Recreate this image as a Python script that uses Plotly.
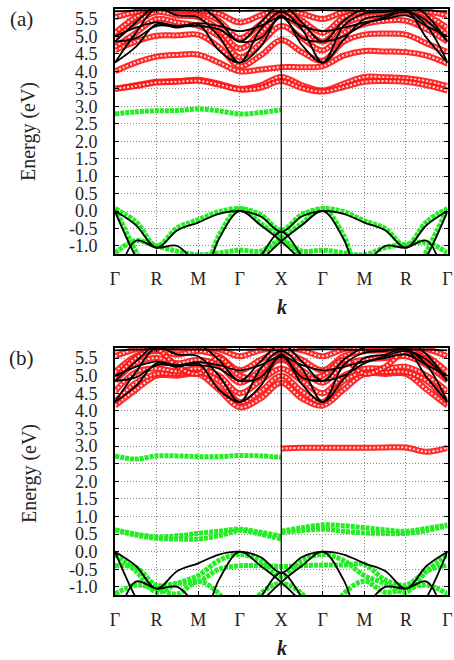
import plotly.graph_objects as go

# ---------------- data ----------------
K = [0, 0.5, 1, 1.5, 2, 2.5, 3, 3.5, 4, 4.5, 5, 5.5, 6, 6.5, 7, 7.5, 8]
K_LEFT = [0, 0.5, 1, 1.5, 2, 2.5, 3, 3.5, 4]
K_RIGHT = [4, 4.5, 5, 5.5, 6, 6.5, 7, 7.5, 8]
K_TICKS = [0, 1, 2, 3, 4, 5, 6, 7, 8]
K_LABELS = ["Γ", "R", "M", "Γ", "X", "Γ", "M", "R", "Γ"]
E_TICKS = [-1.0, -0.5, 0.0, 0.5, 1.0, 1.5, 2.0, 2.5, 3.0, 3.5, 4.0, 4.5, 5.0, 5.5]
E_LABELS = ["-1.0", "-0.5", "0.0", "0.5", "1.0", "1.5", "2.0", "2.5", "3.0",
            "3.5", "4.0", "4.5", "5.0", "5.5"]

# panel (a) red conduction bands
a_red_1 = [3.50, 3.60, 3.70, 3.72, 3.76, 3.65, 3.50, 3.60, 3.84, 3.60, 3.45, 3.65, 3.84, 3.83, 3.80, 3.72, 3.58]
a_red_2 = [3.50, 3.58, 3.68, 3.70, 3.73, 3.62, 3.48, 3.53, 3.72, 3.52, 3.42, 3.55, 3.70, 3.72, 3.70, 3.60, 3.45]
a_red_3 = [4.00, 4.25, 4.42, 4.47, 4.48, 4.25, 4.00, 4.05, 4.12, 4.12, 4.15, 4.45, 4.58, 4.57, 4.55, 4.45, 4.22]
a_red_4 = [4.60, 4.85, 5.02, 5.03, 5.05, 4.70, 4.15, 4.45, 4.90, 4.55, 4.30, 4.85, 5.05, 5.08, 5.05, 4.80, 4.55]
a_red_5 = [4.70, 5.10, 5.50, 5.40, 5.30, 5.00, 4.40, 4.80, 5.30, 4.95, 4.60, 5.10, 5.35, 5.45, 5.45, 5.20, 4.85]
a_red_6 = [4.95, 5.40, 5.70, 5.60, 5.55, 5.20, 4.65, 5.10, 5.60, 5.25, 4.85, 5.35, 5.55, 5.60, 5.70, 5.45, 5.05]
a_red_7 = [5.10, 5.55, 5.80, 5.75, 5.72, 5.45, 4.95, 5.35, 5.75, 5.45, 5.10, 5.55, 5.72, 5.75, 5.78, 5.60, 5.25]
a_red_8 = [5.55, 5.70, 5.80, 5.78, 5.75, 5.65, 5.40, 5.60, 5.80, 5.65, 5.50, 5.70, 5.78, 5.80, 5.80, 5.72, 5.60]

# panel (a) green bands
a_grn_def = [2.78, 2.84, 2.87, 2.88, 2.92, 2.87, 2.78, 2.82, 2.90]
a_grn_v1 = [0.07, -0.30, -1.00, -0.48, -0.25, -0.02, 0.07, -0.10, -0.55, -0.10, 0.07, -0.02, -0.28, -0.50, -1.00, -0.30, 0.07]
a_grn_v2 = [-1.20, -0.85, -1.00, -1.15, -1.25, -1.20, -1.12, -1.15, -0.85, -1.15, -1.12, -1.20, -1.25, -1.05, -0.95, -0.90, -1.20]
a_grn_v3 = [0.07, -1.15, -2.20, -2.20, -2.20, -0.70, 0.07, -0.35, -0.80, -1.35, -2.20, -2.20, -2.20, -2.20, -2.20, -2.20, -2.20]
a_grn_v4 = [-2.20, -2.20, -2.20, -2.20, -2.20, -2.20, -2.20, -1.35, -0.80, -0.35, 0.07, -0.70, -2.20, -2.20, -2.20, -1.15, 0.07]

# panel (b) red bands
b_red_def = [2.93, 2.95, 2.95, 2.95, 2.95, 2.96, 2.96, 2.84, 2.95]
b_red_1 = [4.15, 4.60, 5.00, 5.00, 5.05, 4.60, 4.10, 4.35, 4.80, 4.35, 4.15, 4.60, 5.05, 5.05, 5.05, 4.60, 4.15]
b_red_2 = [4.25, 4.80, 5.05, 5.05, 5.10, 4.85, 4.25, 4.55, 5.00, 4.55, 4.25, 4.85, 5.10, 5.10, 5.10, 4.85, 4.25]
b_red_3 = [4.55, 5.10, 5.20, 5.12, 5.20, 5.00, 4.50, 4.85, 5.20, 4.85, 4.50, 5.00, 5.20, 5.20, 5.25, 5.00, 4.55]
b_red_4 = [4.85, 5.35, 5.50, 5.35, 5.45, 5.30, 4.80, 5.15, 5.45, 5.15, 4.80, 5.30, 5.45, 5.50, 5.55, 5.30, 4.85]
b_red_5 = [5.10, 5.55, 5.70, 5.60, 5.70, 5.55, 5.15, 5.45, 5.70, 5.45, 5.15, 5.55, 5.70, 5.72, 5.75, 5.55, 5.10]
b_red_6 = [5.55, 5.75, 5.80, 5.78, 5.80, 5.75, 5.55, 5.72, 5.80, 5.72, 5.55, 5.75, 5.80, 5.80, 5.80, 5.75, 5.55]
b_red_7 = [4.90, 5.50, 5.75, 5.25, 5.05, 5.50, 5.00, 4.95, 5.55, 4.95, 5.00, 5.45, 5.05, 5.25, 5.70, 5.45, 4.90]

# panel (b) green bands
b_grn_def = [2.72, 2.63, 2.72, 2.72, 2.70, 2.70, 2.73, 2.72, 2.68]
b_grn_m1_left = [0.62, 0.50, 0.42, 0.45, 0.52, 0.58, 0.64, 0.55, 0.44]
b_grn_m2_left = [0.62, 0.47, 0.38, 0.36, 0.36, 0.45, 0.60, 0.50, 0.36]
b_grn_m1_right = [0.58, 0.68, 0.76, 0.74, 0.68, 0.62, 0.58, 0.66, 0.76]
b_grn_m2_right = [0.55, 0.60, 0.64, 0.58, 0.53, 0.52, 0.52, 0.60, 0.74]
b_grn_v1 = [-0.08, -0.55, -1.15, -0.90, -0.68, -0.25, -0.08, -0.25, -0.70, -0.25, -0.08, -0.25, -0.68, -0.90, -1.15, -0.55, -0.08]
b_grn_v2 = [-0.40, -0.45, -0.95, -0.90, -0.85, -0.50, -0.40, -0.40, -0.42, -0.40, -0.38, -0.38, -0.36, -0.80, -0.95, -0.55, -0.38]
b_grn_v3 = [-1.20, -0.95, -1.05, -1.20, -0.84, -1.20, -2.20, -1.20, -0.90, -1.20, -2.20, -1.20, -0.84, -1.15, -1.05, -0.95, -1.20]

# black host bands (both panels)
c_blk_1 = [4.25, 4.70, 5.35, 5.25, 5.35, 4.60, 4.25, 4.70, 5.60, 4.75, 4.25, 4.90, 5.50, 5.60, 5.75, 4.95, 4.25]
c_blk_2 = [4.25, 5.10, 5.80, 5.60, 5.55, 5.00, 4.25, 5.20, 5.70, 5.20, 4.25, 5.30, 5.65, 5.70, 5.75, 5.30, 4.25]
c_blk_3 = [4.85, 4.95, 5.30, 5.28, 5.30, 5.20, 4.85, 4.95, 5.55, 4.95, 4.85, 5.00, 5.35, 5.55, 5.70, 5.45, 4.85]
c_blk_4 = [4.85, 5.40, 5.90, 6.00, 5.90, 5.45, 4.85, 5.40, 5.90, 5.40, 4.85, 5.45, 5.80, 5.90, 6.00, 5.60, 4.85]
c_blk_5 = [5.00, 5.25, 5.40, 5.30, 5.38, 5.30, 5.15, 5.30, 5.55, 5.30, 5.15, 5.25, 5.40, 5.50, 5.60, 5.30, 5.00]
c_blk_6 = [5.72, 5.74, 5.75, 5.75, 5.74, 5.74, 5.73, 5.74, 5.72, 5.74, 5.75, 5.74, 5.73, 5.74, 5.75, 5.74, 5.72]
v_blk_1 = [0.00, -0.40, -1.05, -0.55, -0.33, -0.08, 0.00, -0.15, -0.60, -0.15, 0.00, -0.08, -0.33, -0.55, -1.05, -0.40, 0.00]
v_blk_2 = [0.00, -1.30, -2.20, -2.20, -2.20, -0.80, 0.00, -0.40, -0.87, -1.45, -2.20, -2.20, -2.20, -2.20, -2.20, -2.20, -2.20]
v_blk_3 = [-2.20, -2.20, -2.20, -2.20, -2.20, -2.20, -2.20, -1.45, -0.87, -0.40, 0.00, -0.80, -2.20, -2.20, -2.20, -1.30, 0.00]
v_blk_4 = [-2.20, -0.85, -1.05, -1.00, -1.60, -2.20, -2.20, -1.30, -0.60, -1.30, -2.20, -2.20, -1.60, -1.00, -1.05, -0.85, -2.20]

# ---------------- figure ----------------
RED = "rgba(255,20,20,0.9)"
GREEN = "#22ee22"
SERIF = "Liberation Serif, Times New Roman, serif"
TXT = "#222222"

fig = go.Figure()


def red_band(k, e, ax):
    fig.add_trace(go.Scatter(x=k, y=e, mode="lines", line=dict(color=RED, width=6, shape="spline"),
                             xaxis=ax[0], yaxis=ax[1], hoverinfo="skip"))
    fig.add_trace(go.Scatter(x=k, y=e, mode="lines",
                             line=dict(color="rgba(255,255,255,0.85)", width=2, shape="spline", dash="2px,2px"),
                             xaxis=ax[0], yaxis=ax[1], hoverinfo="skip"))


def green_band(k, e, ax):
    fig.add_trace(go.Scatter(x=k, y=e, mode="lines",
                             line=dict(color=GREEN, width=5, shape="spline", dash="4px,1px"),
                             xaxis=ax[0], yaxis=ax[1], hoverinfo="skip"))


def black_band(k, e, ax):
    fig.add_trace(go.Scatter(x=k, y=e, mode="lines", line=dict(color="black", width=1.8, shape="spline"),
                             xaxis=ax[0], yaxis=ax[1], hoverinfo="skip"))


AX_A = ("x", "y")
AX_B = ("x2", "y2")

# panel (a)
for band in [a_red_1, a_red_2, a_red_3, a_red_4, a_red_5, a_red_6, a_red_7, a_red_8]:
    red_band(K, band, AX_A)
green_band(K_LEFT, a_grn_def, AX_A)
for band in [a_grn_v1, a_grn_v2, a_grn_v3, a_grn_v4]:
    green_band(K, band, AX_A)
for band in [c_blk_1, c_blk_2, c_blk_3, c_blk_4, c_blk_5, c_blk_6, v_blk_1, v_blk_2, v_blk_3, v_blk_4]:
    black_band(K, band, AX_A)

# panel (b)
for band in [b_red_1, b_red_2, b_red_3, b_red_4, b_red_5, b_red_6, b_red_7]:
    red_band(K, band, AX_B)
red_band(K_RIGHT, b_red_def, AX_B)
green_band(K_LEFT, b_grn_def, AX_B)
green_band(K_LEFT, b_grn_m1_left, AX_B)
green_band(K_LEFT, b_grn_m2_left, AX_B)
green_band(K_RIGHT, b_grn_m1_right, AX_B)
green_band(K_RIGHT, b_grn_m2_right, AX_B)
for band in [b_grn_v1, b_grn_v2, b_grn_v3]:
    green_band(K, band, AX_B)
for band in [c_blk_1, c_blk_2, c_blk_3, c_blk_4, c_blk_5, c_blk_6, v_blk_1, v_blk_2, v_blk_3, v_blk_4]:
    black_band(K, band, AX_B)

# page body margin is removed below, so figure pixels are page pixels
W, H = 454, 660


def px(xp):
    return xp / W


def py(yp):
    return 1 - yp / H


XDOM = [px(115), px(447.5)]
YDOM_A = [py(254), py(9)]
YDOM_B = [py(595), py(348)]

common_x = dict(range=[0, 8], tickvals=K_TICKS, ticktext=K_LABELS, showgrid=True, gridcolor="#888888",
                griddash="1px,2px", gridwidth=1, zeroline=False, showline=True, linecolor="black", linewidth=2,
                mirror="ticks", ticks="inside", ticklen=4, tickcolor="black", ticklabeloverflow="allow",
                tickfont=dict(family=SERIF, size=18, color=TXT), ticklabelstandoff=7, fixedrange=True)
common_y = dict(range=[-1.23, 5.785], tickvals=E_TICKS, ticktext=E_LABELS, showgrid=True, gridcolor="#888888",
                griddash="1px,2px", gridwidth=1, zeroline=False, showline=True, linecolor="black", linewidth=2,
                mirror="ticks", ticks="inside", ticklen=4, tickcolor="black", ticklabeloverflow="allow",
                tickfont=dict(family=SERIF, size=18, color=TXT), ticklabelstandoff=12, fixedrange=True)


def note(text, xp, yp, size, angle=0, yanchor="middle"):
    return dict(text=text, x=px(xp), y=py(yp), xref="paper", yref="paper", showarrow=False,
                xanchor="center", yanchor=yanchor, textangle=angle,
                font=dict(family=SERIF, size=size, color=TXT))


fig.update_layout(
    width=W, height=H, margin=dict(l=0, r=0, t=0, b=0, autoexpand=False), showlegend=False,
    paper_bgcolor="white", plot_bgcolor="white",
    xaxis=dict(common_x, domain=XDOM, anchor="y"),
    yaxis=dict(common_y, domain=YDOM_A, anchor="x"),
    xaxis2=dict(common_x, domain=XDOM, anchor="y2"),
    yaxis2=dict(common_y, domain=YDOM_B, anchor="x2"),
    shapes=[
        dict(type="line", xref="x", yref="y domain", x0=4, x1=4, y0=0, y1=1, line=dict(color="black", width=1.2)),
        dict(type="line", xref="x2", yref="y2 domain", x0=4, x1=4, y0=0, y1=1, line=dict(color="black", width=1.2)),
    ],
    annotations=[
        note("(a)", 21, 5, 21, yanchor="top"),
        note("(b)", 21, 344, 21, yanchor="top"),
        note("Energy (eV)", 29, 132, 20, -90),
        note("Energy (eV)", 29, 474, 20, -90),
        note("<b><i>k</i></b>", 282, 307, 20),
        note("<b><i>k</i></b>", 282, 648, 20),
    ],
)

fig.write_html("out.html", config={"displayModeBar": False},
               post_script="document.body.style.margin='0';document.body.style.overflow='hidden';")
